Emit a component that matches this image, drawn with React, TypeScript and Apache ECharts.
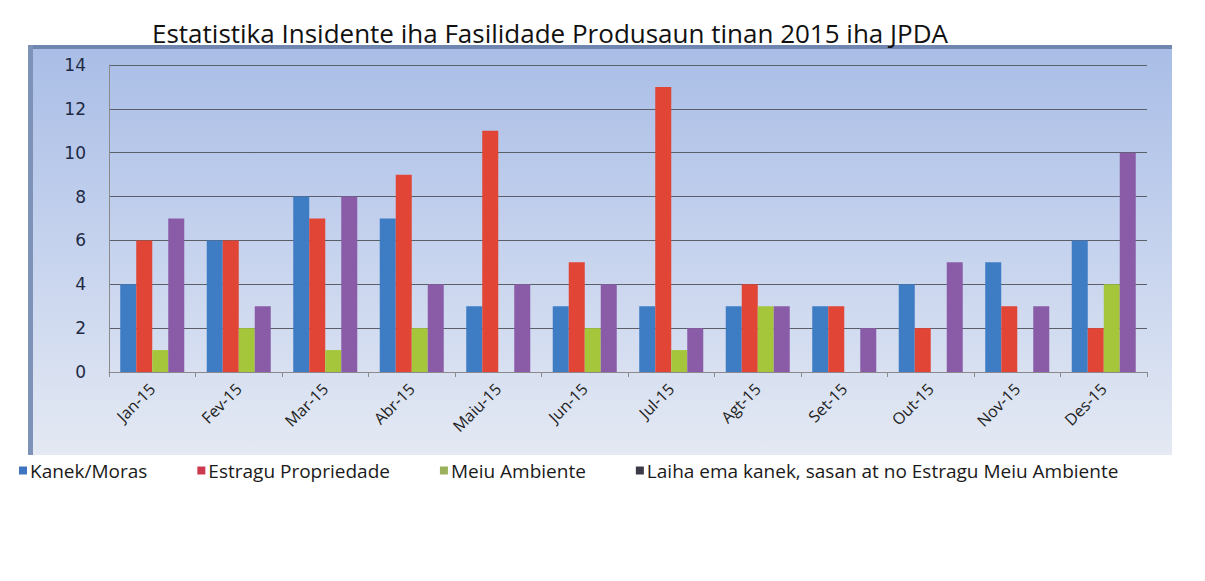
import React, { useEffect, useRef } from "react";
import * as echarts from "echarts";

const categories = ["Jan-15", "Fev-15", "Mar-15", "Abr-15", "Maiu-15", "Jun-15", "Jul-15", "Agt-15", "Set-15", "Out-15", "Nov-15", "Des-15"];
const kanekMoras = [4, 6, 8, 7, 3, 3, 3, 3, 3, 4, 5, 6];
const estraguPropriedade = [6, 6, 7, 9, 11, 5, 13, 4, 3, 2, 3, 2];
const meiuAmbiente = [1, 2, 1, 2, 0, 2, 1, 3, 0, 0, 0, 4];
const laihaEma = [7, 3, 8, 4, 4, 4, 2, 3, 2, 5, 3, 10];
const seriesNames = ["Kanek/Moras", "Estragu Propriedade", "Meiu Ambiente", "Laiha ema kanek, sasan at no Estragu Meiu Ambiente"];
const yTicks = [0, 2, 4, 6, 8, 10, 12, 14];

const barColors = ["#3e7cc4", "#e04535", "#a5c63b", "#8a5ca8"];
const legendColors = ["#3f74c0", "#cc3a50", "#9bb05a", "#3a3a48"];

export default function App() {
  const ref = useRef<HTMLDivElement>(null);
  useEffect(() => {
    if (!ref.current) return;
    const chart = echarts.init(ref.current, undefined, { renderer: "svg" });
    const values = [kanekMoras, estraguPropriedade, meiuAmbiente, laihaEma];
    chart.setOption({
      animation: false,
      backgroundColor: "#ffffff",
      graphic: [
        {
          type: "rect",
          shape: { x: 28, y: 45, width: 1144, height: 410 },
          style: {
            fill: new echarts.graphic.LinearGradient(0, 0, 0, 1, [
              { offset: 0, color: "#a9bde6" },
              { offset: 0.5, color: "#c6d3ee" },
              { offset: 1, color: "#e4e9f3" },
            ]),
          },
          z: -9,
          silent: true,
        },
        {
          type: "rect",
          shape: { x: 28, y: 45, width: 1144, height: 4 },
          style: { fill: "#6f86b0" },
          z: -8,
          silent: true,
        },
        {
          type: "rect",
          shape: { x: 28, y: 45, width: 5, height: 410 },
          style: { fill: "#7e92b8" },
          z: -8,
          silent: true,
        },
      ],
      title: {
        text: "Estatistika Insidente iha Fasilidade Produsaun tinan 2015 iha JPDA",
        left: 545,
        top: 15,
        textAlign: "center",
        textStyle: { fontFamily: "Open Sans", fontSize: 26, fontWeight: "normal", color: "#111111" },
      },
      legend: {
        left: 14,
        top: 456,
        icon: "rect",
        itemWidth: 8,
        itemHeight: 8,
        itemGap: 50,
        textStyle: { fontFamily: "Open Sans", fontSize: 19, color: "#1a1a1a", padding: [0, 0, 0, -2] },
        data: seriesNames.map((n, i) => ({ name: n, itemStyle: { color: legendColors[i] } })),
      },
      grid: { left: 109, right: 58, top: 65, bottom: 209 },
      xAxis: {
        type: "category",
        data: categories,
        axisLine: { show: true, lineStyle: { color: "#8a8a8a", width: 1 } },
        axisTick: { show: true, alignWithLabel: false, length: 5, lineStyle: { color: "#8a8a8a" } },
        axisLabel: { rotate: 45, fontFamily: "Open Sans", fontSize: 16, color: "#222222", margin: 14 },
      },
      yAxis: {
        type: "value",
        min: 0,
        max: 14,
        interval: 2,
        axisLine: { show: true, lineStyle: { color: "#8a8a8a" } },
        axisTick: { show: false },
        axisLabel: {
          fontFamily: "DejaVu Sans",
          fontSize: 17,
          color: "#1f2a44",
          margin: 23,
          padding: [6, 0, 0, 0],
          formatter: (v: number) => (yTicks.includes(v) ? String(v) : ""),
        },
        splitLine: { show: true, lineStyle: { color: "#5a5f6a", width: 1 } },
      },
      series: values.map((d, i) => ({
        name: seriesNames[i],
        type: "bar",
        data: d,
        barGap: "0%",
        barCategoryGap: "26%",
        itemStyle: { color: barColors[i] },
      })),
    });
    return () => chart.dispose();
  }, []);
  return (
    <div style={{ position: "relative", width: 1205, height: 581, margin: -8 }}>
      <div ref={ref} style={{ width: 1205, height: 581 }} />
      <div
        style={{
          position: "absolute",
          left: 4,
          top: 4,
          width: 1193,
          height: 570,
          borderTop: "2px solid #bdbdbd",
          borderLeft: "2px solid #8e8e8e",
          borderRight: "2px solid #bdbdbd",
          borderBottom: "2px solid #bdbdbd",
          pointerEvents: "none",
          zIndex: 5,
        }}
      />
    </div>
  );
}
